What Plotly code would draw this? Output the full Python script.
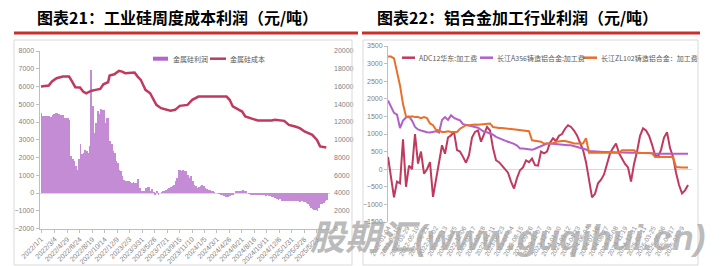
import plotly.graph_objects as go
import pandas as pd

W, H = 723, 266

# ---------------- Left chart: 工业硅周度成本利润 ----------------
si_profit = [
    4530, 4340, 4340, 4340, 4340, 4340, 4300, 4380, 4430, 4480,
    4490, 4470, 4420, 4400, 4380, 4250, 4200, 4200, 4100, 2075,
    1890, 1790, 1500, 1320, 1890, 2770, 2170, 2260, 2450, 2360,
    2260, 2640, 6920, 4900, 3400, 3920, 4620, 4430, 4720, 4660,
    4700, 3960, 4210, 4250, 2920, 2740, 2360, 2260, 1790, 1700,
    1320, 1230, 940, 750, 660, 700, 660, 620, 570, 620,
    570, 570, 790, 280, 90, 90, 60, 280, 320, 320,
    90, 250, 20, -60, 60, -60, 0, 30, 60, 130,
    190, 250, 280, 320, 380, 470, 660, 850, 1320, 1320,
    1260, 1320, 1260, 1230, 1000, 850, 940, 660, 470, 380,
    280, 320, 380, 430, 380, 280, 250, 190, 170, 90,
    90, 30, 0, 0, -30, -60, -60, -190, -250, -250,
    -250, -190, -130, -60, 0, 90, 130, 130, 90, 170,
    130, 60, 0, -30, -60, -60, -90, -130, -90, -130,
    -90, -130, -90, -130, -150, -130, -190, -190, -250, -250,
    -280, -320, -380, -340, -430, -470, -430, -430, -470, -430,
    -470, -430, -470, -430, -470, -470, -510, -470, -510, -510,
    -570, -620, -750, -850, -890, -940, -950, -1000, -850, -620,
    -620, -570, -470, -380,
]
si_week_dates = pd.date_range("2022-01-01", periods=len(si_profit), freq="7D")

cost_dates = [
    "2022-01-01", "2022-02-05", "2022-02-19", "2022-03-12", "2022-04-09",
    "2022-05-07", "2022-05-21", "2022-06-04", "2022-06-25", "2022-07-09",
    "2022-07-23", "2022-08-13", "2022-09-03", "2022-09-24", "2022-10-08",
    "2022-10-29", "2022-11-05", "2022-11-26", "2022-12-17", "2022-12-31",
    "2023-01-14", "2023-02-11", "2023-02-25", "2023-03-11", "2023-03-25",
    "2023-04-08", "2023-04-15", "2023-05-06", "2023-05-20", "2023-06-03",
    "2023-06-24", "2023-07-15", "2023-08-05", "2023-08-26", "2023-09-16",
    "2023-10-21", "2023-11-11", "2023-12-09", "2024-04-13", "2024-04-27",
    "2024-05-11", "2024-06-08", "2024-06-22", "2024-07-06", "2024-08-03",
    "2024-08-31", "2024-11-02", "2024-11-16", "2024-12-28", "2025-01-18",
    "2025-02-15", "2025-03-08", "2025-03-29", "2025-04-19", "2025-05-03",
    "2025-05-24", "2025-06-07", "2025-07-05",
]
cost_values = [
    16000, 16110, 16560, 16930, 17120,
    17120, 16560, 15920, 15880, 15430,
    15240, 15500, 15620, 15730, 16250,
    16480, 17230, 17380, 17760, 17680,
    17500, 17500, 17570, 17120, 16750,
    16000, 15620, 15240, 14610, 13930,
    13560, 13370, 13260, 13370, 13820,
    13930, 14500, 14870, 14870, 14500,
    13750, 13370, 13180, 12620, 12430,
    12170, 12170, 12250, 12130, 11680,
    11490, 11310, 10930, 10740, 10560,
    9990, 9250, 9130,
]
left_tick_labels = [
    "2022/1/1", "2022/3/4", "2022/4/29", "2022/6/24", "2022/8/19", "2022/10/14",
    "2022/12/9", "2023/2/3", "2023/3/31", "2023/5/26", "2023/7/21", "2023/9/15",
    "2023/11/10", "2024/1/5", "2024/3/1", "2024/4/26", "2024/6/21", "2024/8/16",
    "2024/10/11", "2024/12/6", "2025/1/31", "2025/3/28", "2025/5/23",
]
left_tick_vals = pd.to_datetime(left_tick_labels, format="%Y/%m/%d")

# ---------------- Right chart: 铝合金加工行业利润 ----------------
adc12 = [
    350, -300, -800, -350, -400, 850, -500, 100, 0, 1000,
    160, 500, -125, 0, 200, -785, -300, 100, 680, 440,
    900, 960, 1060, 540, 500, 350, 185, 400, 900, 1060,
    1100, 780, 1000, 1200, 1100, 600, 255, 200, 100, 0,
    -100, -350, -550, -250, -30, 50, 250, 200, 300, 115,
    100, 500, 450, 500, 750, 880, 800, 950, 1000, 1150,
    1250, 1200, 1100, 960, 750, 550, 200, -350, -800, -700,
    -400, -300, -150, 150, 450, 600, 730, 450, 300, 150,
    50, -350, 150, 500, 950, 1160, 1100, 950, 700, 400,
    350, 550, 900, 1050, 600, 350, -100, -450, -690, -600,
    -450,
]
a356 = [
    1950, 1750, 1600, 1550, 1170, 1380, 1470, 1500, 1380, 1200,
    1130, 1100, 1070, 1050, 1040, 1050, 1080, 1040, 1400, 1480,
    1400, 1530, 1460, 1420, 1390, 1280, 1260, 1250, 1240, 1210,
    1180, 1120, 1060, 1050, 1020, 980, 920, 880, 830, 810,
    780, 760, 720, 670, 590, 590, 580, 570, 550, 580,
    620, 650, 700, 730, 730, 720, 710, 700, 700, 690,
    680, 680, 660, 640, 620, 590, 560, 520, 510, 500,
    495, 490, 490, 490, 485, 480, 480, 475, 475, 470,
    470, 470, 470, 470, 470, 460, 460, 455, 450, 440,
    440, 440, 445, 450, 445, 450, 440, 445, 450, 440,
    440,
]
zl102 = [
    3200, 3200, 3150, 2750, 2380, 1850, 1500, 1480, 1500, 1480,
    1480, 1450, 1480, 1450, 1300, 1250, 1120, 1100, 1060, 1060,
    1080, 1060, 1070, 1060, 1150, 1200, 1250, 1250, 1270, 1270,
    1260, 1270, 1270, 1280, 1300, 1200, 1180, 1170, 1170, 1150,
    1150, 1140, 1130, 1120, 1110, 1100, 1100, 1080, 820, 800,
    800, 780, 730, 730, 730, 740, 780, 800, 800, 800,
    790, 760, 730, 730, 730, 730, 880, 470, 470, 470,
    470, 470, 470, 470, 470, 470, 470, 470, 540, 540,
    540, 540, 540, 470, 460, 460, 460, 460, 450, 350,
    350, 350, 350, 350, 350, 350, 60, 48, 48, 48,
    48,
]
alu_dates = pd.date_range("2022-01-04", "2025-08-26", periods=len(adc12))
right_tick_labels = [
    "2022-01-04", "2022-02-15", "2022-03-29", "2022-05-10", "2022-06-21",
    "2022-08-02", "2022-09-13", "2022-10-25", "2022-12-06", "2023-01-17",
    "2023-02-28", "2023-04-11", "2023-05-23", "2023-07-04", "2023-08-15",
    "2023-09-26", "2023-11-07", "2023-12-19", "2024-01-30", "2024-03-12",
    "2024-04-23", "2024-06-04", "2024-07-16", "2024-08-27", "2024-10-08",
    "2024-11-19", "2024-12-31", "2025-02-11", "2025-03-25", "2025-05-06",
    "2025-06-17", "2025-07-29",
]
right_tick_vals = pd.to_datetime(right_tick_labels)

# ---------------- styling ----------------
C_BAR = "#C58CD6"
C_COST = "#C0395F"
C_ADC = "#C0395F"
C_A356 = "#B35FCA"
C_ZL = "#E8702A"
TICK_FONT = dict(family="Liberation Sans, Noto Sans CJK SC", size=7, color="#7F7F7F")
AX_LINE = "#BFBFBF"


def px(x):
    return x / W


def py(y):
    return 1 - y / H


fig = go.Figure()

fig.add_trace(go.Bar(
    x=si_week_dates, y=si_profit, name="金属硅利润",
    marker=dict(color=C_BAR, line=dict(width=0)),
    width=3.6 * 86400000, xaxis="x", yaxis="y", showlegend=False,
))
fig.add_trace(go.Scatter(
    x=pd.to_datetime(cost_dates), y=cost_values, name="金属硅成本", mode="lines",
    line=dict(color=C_COST, width=2.5), xaxis="x", yaxis="y2", showlegend=False,
))

fig.add_trace(go.Scatter(
    x=alu_dates, y=adc12, name="ADC12华东:加工费", mode="lines",
    line=dict(color=C_ADC, width=2), xaxis="x3", yaxis="y3", showlegend=False,
))
fig.add_trace(go.Scatter(
    x=alu_dates, y=a356, name="长江A356铸造铝合金:加工费", mode="lines",
    line=dict(color=C_A356, width=2), xaxis="x3", yaxis="y3", showlegend=False,
))
fig.add_trace(go.Scatter(
    x=alu_dates, y=zl102, name="长江ZL102铸造铝合金：加工费", mode="lines",
    line=dict(color=C_ZL, width=2), xaxis="x3", yaxis="y3", showlegend=False,
))

fig.update_layout(
    width=W, height=H, autosize=False,
    margin=dict(l=0, r=0, t=0, b=0, pad=0),
    paper_bgcolor="white", plot_bgcolor="rgba(0,0,0,0)",
    showlegend=False,
    bargap=0,
    xaxis=dict(
        domain=[px(39.5), px(330)], anchor="y", type="date", automargin=False,
        range=["2021-12-25 06:00", "2025-07-21 14:00"],
        tickmode="array", tickvals=left_tick_vals, ticktext=left_tick_labels,
        tickangle=-45, tickfont=dict(family="Liberation Sans", size=7, color="#7F7F7F"),
        showline=True, linecolor=AX_LINE, linewidth=1,
        ticks="outside", ticklen=3, tickcolor=AX_LINE,
        showgrid=False, zeroline=False,
    ),
    yaxis=dict(
        domain=[py(228.5), py(51)], anchor="x", automargin=False,
        range=[-2000, 8000], dtick=1000, tickformat="d",
        tickfont=TICK_FONT, showgrid=False,
        showline=True, linecolor=AX_LINE, ticks="outside", ticklen=3, tickcolor=AX_LINE,
        zeroline=True, zerolinecolor="#D9D9D9", zerolinewidth=1,
    ),
    yaxis2=dict(
        overlaying="y", side="right", anchor="x", automargin=False,
        range=[0, 20000], dtick=2000, tickformat="d",
        tickfont=TICK_FONT, showgrid=False, showline=False, zeroline=False,
        ticks="", ticklabelstandoff=3,
    ),
    xaxis3=dict(
        domain=[px(388), px(692)], anchor="y3", type="date", automargin=False,
        range=["2022-01-04", "2025-09-12 14:00"],
        tickmode="array", tickvals=right_tick_vals, ticktext=right_tick_labels,
        tickangle=-60, tickfont=dict(family="Liberation Sans", size=6.5, color="#8C8C8C"),
        showline=False, ticks="", showgrid=False, zeroline=False,
    ),
    yaxis3=dict(
        domain=[py(222), py(46)], anchor="x3", automargin=False,
        range=[-1500, 3500], dtick=500, tickformat="d",
        tickfont=TICK_FONT, showgrid=False,
        showline=True, linecolor=AX_LINE, ticks="outside", ticklen=3, tickcolor=AX_LINE,
        zeroline=True, zerolinecolor="#D9D9D9", zerolinewidth=1,
    ),
)

shapes = []
# chart frames
shapes.append(dict(type="rect", xref="paper", yref="paper",
                   x0=px(14), x1=px(352), y0=py(265), y1=py(40),
                   line=dict(color="#D9D9D9", width=1)))
shapes.append(dict(type="rect", xref="paper", yref="paper",
                   x0=px(363), x1=px(698), y0=py(265), y1=py(40),
                   line=dict(color="#D9D9D9", width=1)))
# red underline of titles
shapes.append(dict(type="line", xref="paper", yref="paper",
                   x0=px(14), x1=px(358), y0=py(33), y1=py(33),
                   line=dict(color="#C9302C", width=3)))
shapes.append(dict(type="line", xref="paper", yref="paper",
                   x0=px(362), x1=px(700), y0=py(33), y1=py(33),
                   line=dict(color="#C9302C", width=3)))
# manual legend swatches (left)
shapes.append(dict(type="rect", xref="paper", yref="paper",
                   x0=px(153), x1=px(168), y0=py(60.7), y1=py(56.7),
                   fillcolor="#B366C9", line=dict(width=0)))
shapes.append(dict(type="line", xref="paper", yref="paper",
                   x0=px(210), x1=px(226), y0=py(58.7), y1=py(58.7),
                   line=dict(color=C_COST, width=2.5)))
# manual legend swatches (right)
for x0, x1, c in [(402, 415, C_ADC), (480, 493, C_A356), (583, 597, C_ZL)]:
    shapes.append(dict(type="line", xref="paper", yref="paper",
                       x0=px(x0), x1=px(x1), y0=py(57.7), y1=py(57.7),
                       line=dict(color=c, width=2.5)))

LEG_FONT = dict(family="Noto Sans CJK SC", size=7, color="#595959")
annotations = [
    dict(text="<b>图表21：工业硅周度成本利润（元/吨）</b>", x=px(35), y=py(17),
         xanchor="left", yanchor="middle", showarrow=False,
         font=dict(family="Noto Sans CJK SC", size=16, color="#000000")),
    dict(text="<b>图表22：铝合金加工行业利润（元/吨）</b>", x=px(375), y=py(17),
         xanchor="left", yanchor="middle", showarrow=False,
         font=dict(family="Noto Sans CJK SC", size=16, color="#000000")),
    dict(text="金属硅利润", x=px(170.5), y=py(58.7), xanchor="left", yanchor="middle",
         showarrow=False, font=LEG_FONT),
    dict(text="金属硅成本", x=px(228), y=py(58.7), xanchor="left", yanchor="middle",
         showarrow=False, font=LEG_FONT),
    dict(text="ADC12华东:加工费", x=px(417), y=py(57.7), xanchor="left", yanchor="middle",
         showarrow=False, font=LEG_FONT),
    dict(text="长江A356铸造铝合金:加工费", x=px(495), y=py(57.7), xanchor="left", yanchor="middle",
         showarrow=False, font=LEG_FONT),
    dict(text="长江ZL102铸造铝合金：加工费", x=px(599), y=py(57.7), xanchor="left", yanchor="middle",
         showarrow=False, font=LEG_FONT),
    # watermark
    dict(text="<b><i>股期汇(www.guqihui.cn)</i></b>", x=px(508), y=py(237),
         xanchor="center", yanchor="middle", showarrow=False,
         font=dict(family="Liberation Sans, Noto Sans CJK SC", size=35,
                   color="rgba(165,165,165,0.75)")),
]
for a in annotations:
    a["xref"] = "paper"
    a["yref"] = "paper"

fig.update_layout(shapes=shapes, annotations=annotations)

fig.write_html("out.html")
